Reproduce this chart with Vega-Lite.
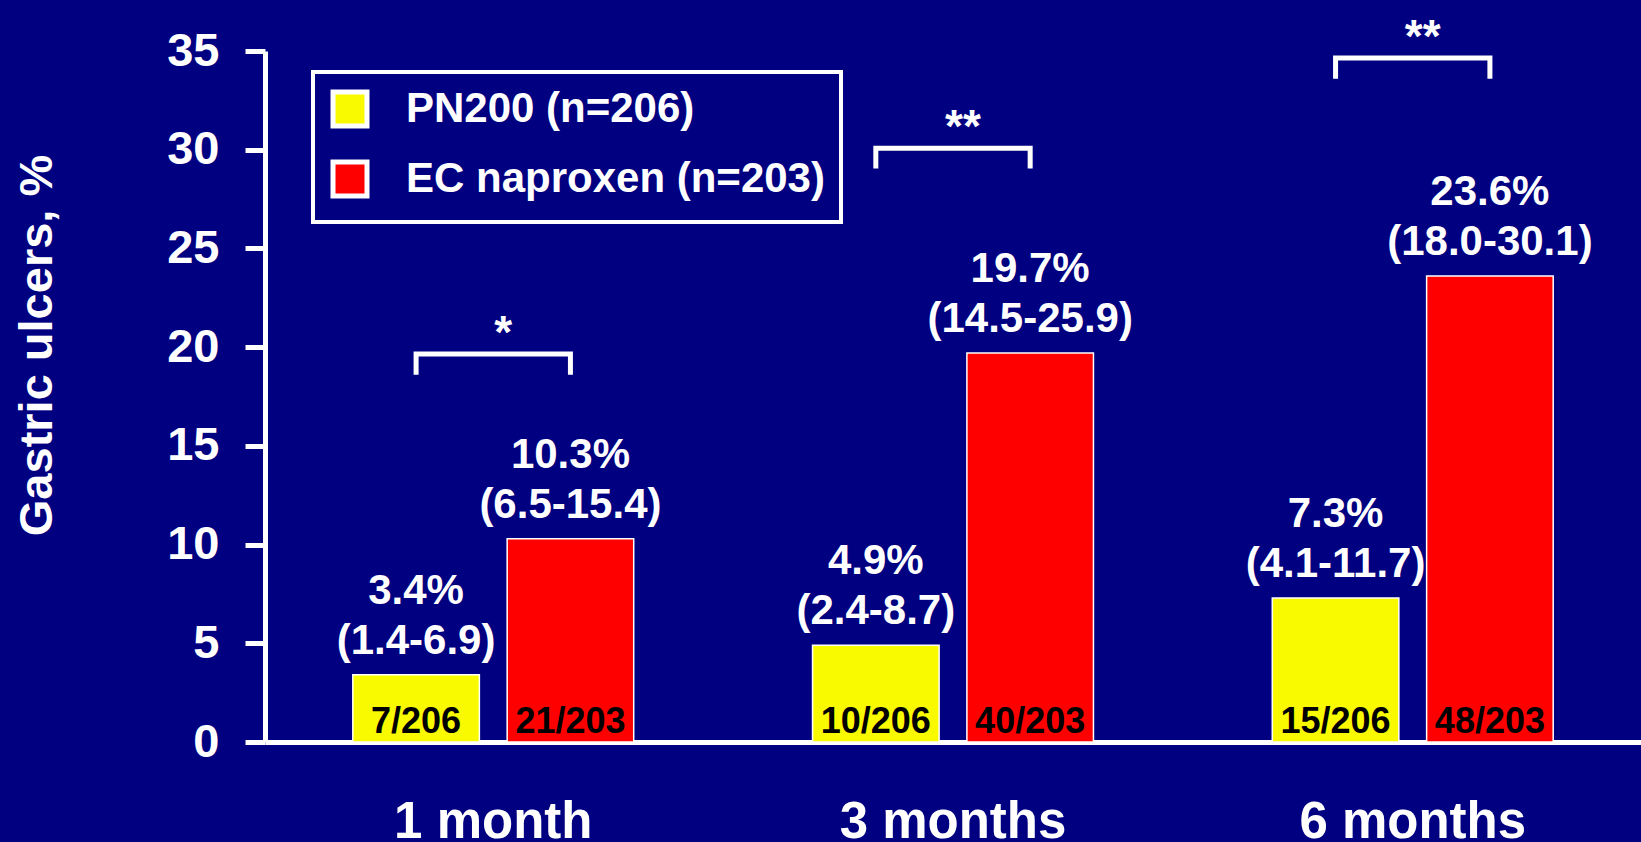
{
  "$schema": "https://vega.github.io/schema/vega-lite/v6.json",
  "autosize": {"type": "none"},
  "padding": {"left": 265, "top": 51, "right": 0, "bottom": 100},
  "width": 1376,
  "height": 691,
  "background": "#000080",
  "config": {
    "view": {"stroke": null},
    "font": "Liberation Sans"
  },
  "datasets": {
    "bars": [
      {"month": "1 month", "group": "PN200 (n=206)", "value": 3.4, "label": "3.4%\n(1.4-6.9)", "count": "7/206"},
      {"month": "1 month", "group": "EC naproxen (n=203)", "value": 10.3, "label": "10.3%\n(6.5-15.4)", "count": "21/203"},
      {"month": "3 months", "group": "PN200 (n=206)", "value": 4.9, "label": "4.9%\n(2.4-8.7)", "count": "10/206"},
      {"month": "3 months", "group": "EC naproxen (n=203)", "value": 19.7, "label": "19.7%\n(14.5-25.9)", "count": "40/203"},
      {"month": "6 months", "group": "PN200 (n=206)", "value": 7.3, "label": "7.3%\n(4.1-11.7)", "count": "15/206"},
      {"month": "6 months", "group": "EC naproxen (n=203)", "value": 23.6, "label": "23.6%\n(18.0-30.1)", "count": "48/203"}
    ],
    "brackets": [
      {"month": "1 month", "group": "PN200 (n=206)", "level": 18.6, "ord": 1},
      {"month": "1 month", "group": "PN200 (n=206)", "level": 19.65, "ord": 2},
      {"month": "1 month", "group": "EC naproxen (n=203)", "level": 19.65, "ord": 3},
      {"month": "1 month", "group": "EC naproxen (n=203)", "level": 18.6, "ord": 4},
      {"month": "3 months", "group": "PN200 (n=206)", "level": 29.05, "ord": 1},
      {"month": "3 months", "group": "PN200 (n=206)", "level": 30.07, "ord": 2},
      {"month": "3 months", "group": "EC naproxen (n=203)", "level": 30.07, "ord": 3},
      {"month": "3 months", "group": "EC naproxen (n=203)", "level": 29.05, "ord": 4},
      {"month": "6 months", "group": "PN200 (n=206)", "level": 33.6, "ord": 1},
      {"month": "6 months", "group": "PN200 (n=206)", "level": 34.65, "ord": 2},
      {"month": "6 months", "group": "EC naproxen (n=203)", "level": 34.65, "ord": 3},
      {"month": "6 months", "group": "EC naproxen (n=203)", "level": 33.6, "ord": 4}
    ],
    "stars": [
      {"month": "1 month", "stars": "*", "level": 19.65},
      {"month": "3 months", "stars": "**", "level": 30.07},
      {"month": "6 months", "stars": "**", "level": 34.65}
    ]
  },
  "encoding": {
    "x": {
      "field": "month",
      "type": "nominal",
      "sort": ["1 month", "3 months", "6 months"],
      "scale": {"paddingInner": 0.389, "paddingOuter": 0.191},
      "axis": {
        "title": null,
        "labelAngle": 0,
        "ticks": false,
        "labelPadding": 55,
        "labelLimit": 600,
        "labelFontSize": 51,
        "labelFont": "Liberation Sans",
        "labelFontWeight": "bold",
        "labelColor": "white",
        "domainColor": "white",
        "domainWidth": 5,
        "grid": false
      }
    }
  },
  "layer": [
    {
      "data": {"name": "bars"},
      "mark": {"type": "bar", "stroke": "white", "strokeWidth": 1.5},
      "encoding": {
        "xOffset": {
          "field": "group",
          "type": "nominal",
          "sort": ["PN200 (n=206)", "EC naproxen (n=203)"],
          "scale": {"paddingInner": 0.18, "paddingOuter": 0}
        },
        "y": {
          "field": "value",
          "type": "quantitative",
          "scale": {"domain": [0, 35], "nice": false},
          "axis": {
            "values": [0, 5, 10, 15, 20, 25, 30, 35],
            "title": "Gastric ulcers, %",
            "titleFontSize": 47,
            "titleFont": "Liberation Sans",
            "titleFontWeight": "bold",
            "titleColor": "white",
            "titleAngle": -90,
            "titleX": -228,
            "titleY": 294,
            "titleAlign": "center",
            "titleBaseline": "middle",
            "titleLimit": 800,
            "labelFontSize": 47,
            "labelFont": "Liberation Sans",
            "labelFontWeight": "bold",
            "labelColor": "white",
            "labelPadding": 26,
            "tickColor": "white",
            "tickSize": 20,
            "tickWidth": 5,
            "domainColor": "white",
            "domainWidth": 5,
            "grid": false
          }
        },
        "color": {
          "field": "group",
          "type": "nominal",
          "scale": {"domain": ["PN200 (n=206)", "EC naproxen (n=203)"], "range": ["#F9F900", "#FF0000"]},
          "legend": {
            "title": null,
            "orient": "none",
            "legendX": 48,
            "legendY": 21,
            "fillColor": "#000080",
            "strokeColor": "white",
            "padding": 16,
            "symbolType": "square",
            "symbolSize": 1156,
            "symbolStrokeColor": "white",
            "symbolStrokeWidth": 5,
            "symbolOpacity": 1,
            "labelFontSize": 42,
            "labelFont": "Liberation Sans",
            "labelFontWeight": "bold",
            "labelColor": "white",
            "labelOffset": 35,
            "labelLimit": 800,
            "rowPadding": 16,
            "encode": {"legend": {"update": {"strokeWidth": {"value": 4}}}}
          }
        }
      }
    },
    {
      "data": {"name": "bars"},
      "mark": {"type": "text", "color": "white", "fontSize": 42, "fontWeight": "bold", "font": "Liberation Sans", "baseline": "bottom", "lineBreak": "\n", "lineHeight": 50, "dy": -62},
      "encoding": {
        "xOffset": {"field": "group", "type": "nominal", "sort": ["PN200 (n=206)", "EC naproxen (n=203)"]},
        "y": {"field": "value", "type": "quantitative"},
        "text": {"field": "label"}
      }
    },
    {
      "data": {"name": "bars"},
      "mark": {"type": "text", "color": "black", "fontSize": 36, "fontWeight": "bold", "font": "Liberation Sans", "baseline": "alphabetic", "dy": -9},
      "encoding": {
        "xOffset": {"field": "group", "type": "nominal", "sort": ["PN200 (n=206)", "EC naproxen (n=203)"]},
        "y": {"datum": 0, "type": "quantitative"},
        "text": {"field": "count"}
      }
    },
    {
      "data": {"name": "brackets"},
      "mark": {"type": "line", "color": "white", "strokeWidth": 5, "strokeJoin": "miter", "strokeCap": "butt", "xOffset": 7},
      "encoding": {
        "xOffset": {"field": "group", "type": "nominal", "sort": ["PN200 (n=206)", "EC naproxen (n=203)"]},
        "y": {"field": "level", "type": "quantitative"},
        "detail": {"field": "month"},
        "order": {"field": "ord", "type": "quantitative"}
      }
    },
    {
      "data": {"name": "stars"},
      "mark": {"type": "text", "color": "white", "fontSize": 46, "fontWeight": "bold", "font": "Liberation Sans", "baseline": "alphabetic", "dy": -6, "xOffset": 10},
      "encoding": {
        "y": {"field": "level", "type": "quantitative"},
        "text": {"field": "stars"}
      }
    }
  ]
}
